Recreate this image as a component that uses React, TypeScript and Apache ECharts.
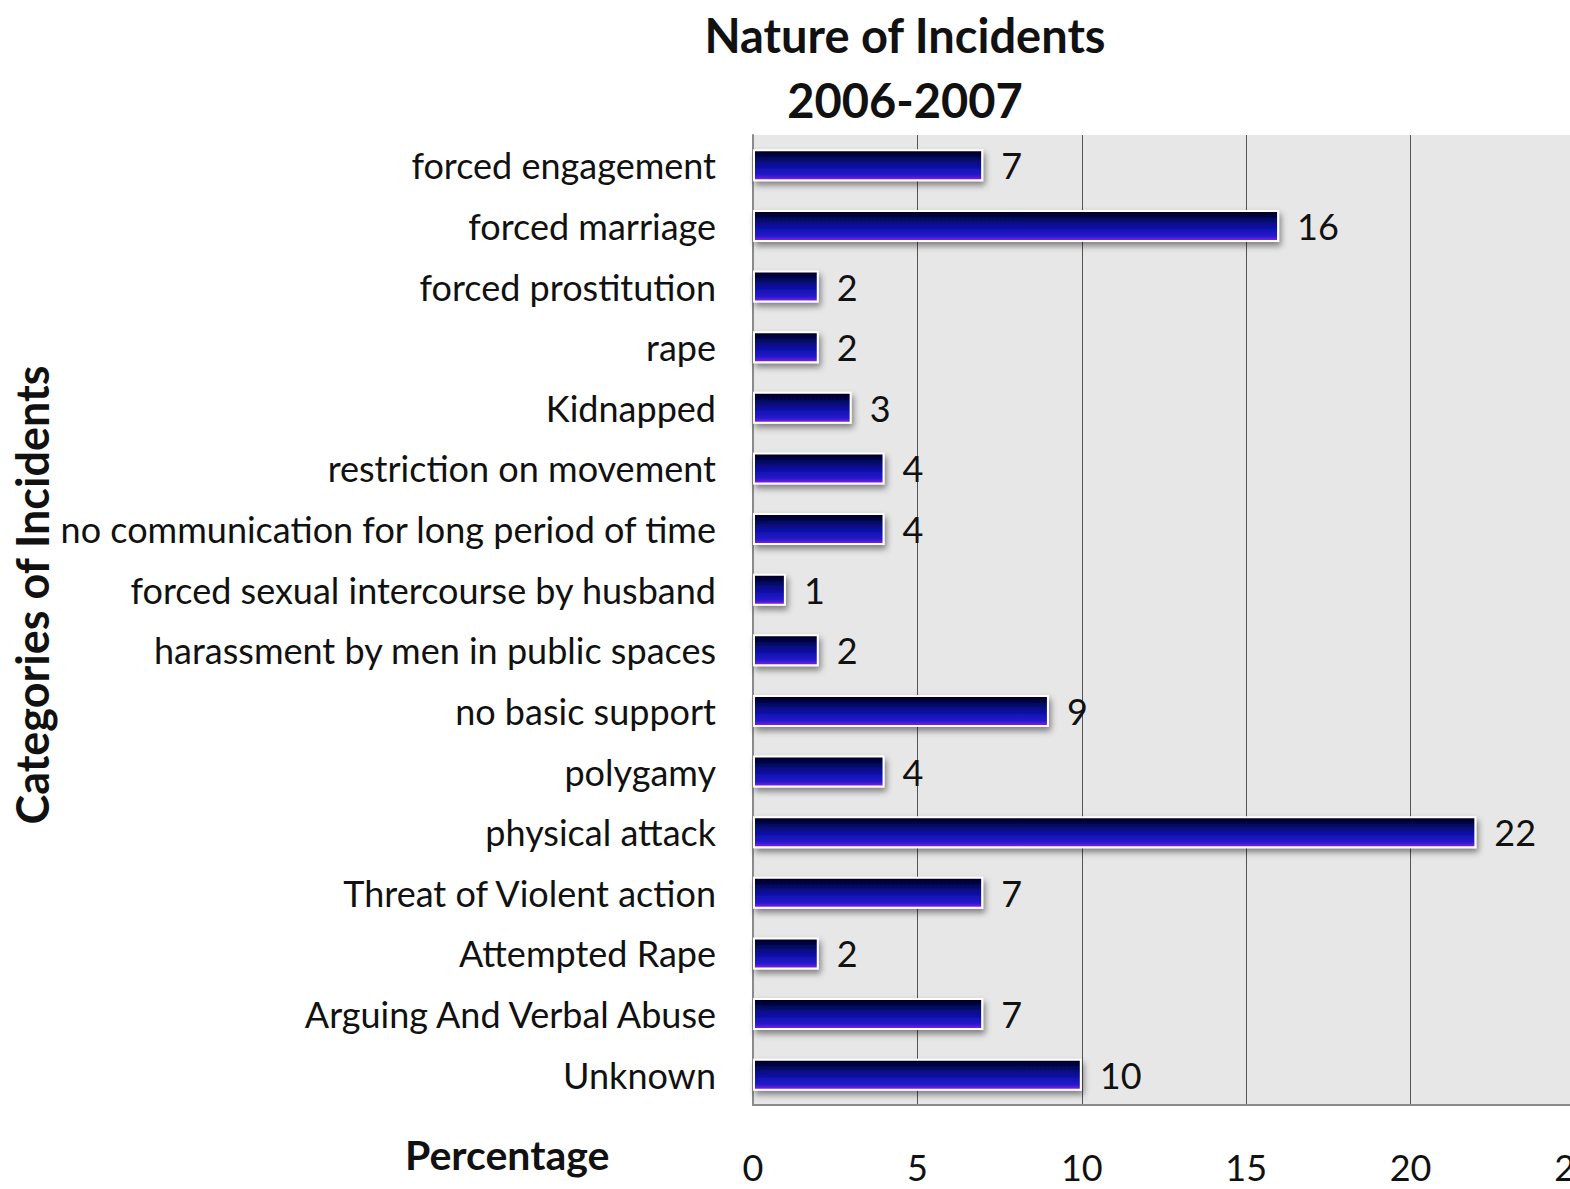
import React, { useEffect, useRef } from "react";
import * as echarts from "echarts";

const categories = [
  "forced engagement",
  "forced marriage",
  "forced prostitution",
  "rape",
  "Kidnapped",
  "restriction on movement",
  "no communication for long period of time",
  "forced sexual intercourse by husband",
  "harassment by men in public spaces",
  "no basic support",
  "polygamy",
  "physical attack",
  "Threat of Violent action",
  "Attempted Rape",
  "Arguing And Verbal Abuse",
  "Unknown",
];
const values = [7, 16, 2, 2, 3, 4, 4, 1, 2, 9, 4, 22, 7, 2, 7, 10];
const titleText = "Nature of Incidents\n2006-2007";
const xAxisTitle = "Percentage";
const yAxisTitle = "Categories of Incidents";

const FONT = "Lato, 'Open Sans', sans-serif";

export default function App() {
  const ref = useRef<HTMLDivElement>(null);
  useEffect(() => {
    if (!ref.current) return;
    const chart = echarts.init(ref.current, null, { renderer: "svg" });
    chart.setOption({
      animation: false,
      backgroundColor: "#ffffff",
      title: {
        text: titleText,
        left: 900,
        top: -3,
        textAlign: "center",
        textStyle: {
          fontFamily: FONT,
          fontSize: 47,
          fontWeight: "bold",
          color: "#111",
          lineHeight: 65,
        },
      },
      grid: {
        left: 753,
        top: 135,
        width: 822,
        height: 970,
        outerBoundsMode: "none",
        containLabel: false,
        show: true,
        backgroundColor: "#e7e7e7",
        borderWidth: 0,
      },
      xAxis: {
        type: "value",
        min: 0,
        max: 25,
        interval: 5,
        axisLine: { show: true, lineStyle: { color: "#8a8a8a", width: 2 } },
        axisTick: { show: false },
        splitLine: { show: true, lineStyle: { color: "#555", width: 1 } },
        axisLabel: {
          margin: 44,
          fontFamily: FONT,
          fontSize: 36,
          color: "#111",
          showMaxLabel: true,
        },
      },
      yAxis: {
        type: "category",
        data: categories,
        inverse: true,
        axisLine: { show: true, lineStyle: { color: "#8a8a8a", width: 2 } },
        axisTick: { show: false },
        axisLabel: {
          margin: 37,
          fontFamily: FONT,
          fontSize: 36,
          color: "#111",
        },
      },
      graphic: [
        {
          type: "text",
          left: 405,
          top: 1134,
          style: {
            text: xAxisTitle,
            fontFamily: FONT,
            fontSize: 41,
            fontWeight: "bold",
            fill: "#111",
          },
        },
        {
          type: "text",
          x: 32,
          y: 595,
          rotation: Math.PI / 2,
          style: {
            text: yAxisTitle,
            fontFamily: FONT,
            fontSize: 45,
            fontWeight: "bold",
            fill: "#111",
            align: "center",
            verticalAlign: "middle",
          },
        },
      ],
      series: [
        {
          type: "bar",
          data: values,
          barWidth: 32,
          itemStyle: {
            color: new echarts.graphic.LinearGradient(0, 0, 0, 1, [
              { offset: 0, color: "#000018" },
              { offset: 0.55, color: "#0a10a8" },
              { offset: 0.85, color: "#2a1ad0" },
              { offset: 1, color: "#9a20e8" },
            ]),
            borderColor: "#ffffff",
            borderWidth: 2,
            shadowColor: "rgba(0,0,0,0.45)",
            shadowBlur: 6,
            shadowOffsetX: 2,
            shadowOffsetY: 4,
          },
          label: {
            show: true,
            position: "right",
            distance: 18,
            fontFamily: FONT,
            fontSize: 36,
            color: "#111",
          },
        },
      ],
    });
    return () => chart.dispose();
  }, []);
  return (
    <div
      ref={ref}
      style={{ position: "fixed", left: 0, top: 0, width: 1570, height: 1189 }}
    />
  );
}
